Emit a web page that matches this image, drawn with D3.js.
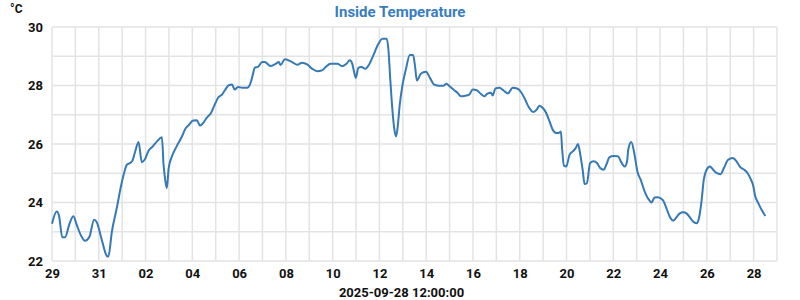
<!DOCTYPE html>
<html>
<head>
<meta charset="utf-8">
<script src="https://cdn.jsdelivr.net/npm/d3@7"></script>
<style>
  body { margin: 0; background: #fff; }
  text { font-family: Roboto, "Liberation Sans", sans-serif; }
</style>
</head>
<body>
<div id="chart"></div>
<script>
// Chart values
var startTime = "2025-08-29T00:00:00";
var lastTimeLabel = "2025-09-28 12:00:00";

// days since start
var days = [
  0, 0.2, 0.3, 0.44, 0.56, 0.73, 0.91, 1.06, 1.24, 1.41, 1.6, 1.8, 1.91, 2.13, 2.34, 2.41,
  2.56, 2.77, 2.96, 3.1, 3.2, 3.34, 3.44, 3.56, 3.7, 3.84, 3.96, 4.13, 4.31, 4.49, 4.7, 4.77,
  4.84, 4.91, 4.99, 5.13, 5.33, 5.54, 5.71, 5.86, 6.04, 6.19, 6.33, 6.49, 6.63, 6.8, 6.96,
  7.1, 7.27, 7.41, 7.56, 7.7, 7.81, 7.96, 8.13, 8.34, 8.49, 8.59, 8.67, 8.81, 8.99, 9.1,
  9.34, 9.56, 9.7, 9.77, 9.96, 10.27, 10.49, 10.7, 10.91, 11.13, 11.34, 11.53, 11.7, 11.91,
  12.2, 12.41, 12.59, 12.73, 12.84, 12.91, 12.99, 13.1, 13.24, 13.39, 13.56, 13.73, 13.91,
  14.13, 14.31, 14.39, 14.46, 14.56, 14.64, 14.71, 14.79, 14.87, 14.99, 15.13, 15.3, 15.44,
  15.53, 15.6, 15.77, 15.99, 16.16, 16.34, 16.56, 16.73, 16.87, 16.99, 17.2, 17.34, 17.49,
  17.67, 17.84, 17.99, 18.16, 18.34, 18.49, 18.6, 18.77, 18.84, 18.96, 19.13, 19.31, 19.49,
  19.7, 19.89, 20.06, 20.2, 20.34, 20.41, 20.59, 20.73, 20.84, 20.99, 21.13, 21.27, 21.41,
  21.56, 21.67, 21.76, 21.81, 21.89, 21.99, 22.13, 22.27, 22.39, 22.49, 22.59, 22.7, 22.77,
  22.87, 23.01, 23.16, 23.3, 23.44, 23.59, 23.7, 23.84, 24.01, 24.2, 24.34, 24.49, 24.59,
  24.64, 24.77, 24.91, 25.03, 25.17, 25.34, 25.46, 25.53, 25.63, 25.77, 25.91, 26.13, 26.27,
  26.41, 26.56, 26.7, 26.84, 26.99, 27.13, 27.27, 27.41, 27.56, 27.67, 27.77, 27.87, 27.99,
  28.13, 28.27, 28.41, 28.59, 28.73, 28.91, 29.1, 29.27, 29.41, 29.6, 29.74, 29.87, 29.99,
  30.06, 30.2, 30.34, 30.5
];

// inside temperature, degrees C
var temps = [
  23.27, 23.69, 23.55, 22.81, 22.81, 23.23, 23.53, 23.23, 22.87, 22.69, 22.83, 23.41, 23.33, 22.72, 22.18, 22.15,
  23.0, 23.81, 24.6, 25.06, 25.29, 25.35, 25.43, 25.75, 26.07, 25.38, 25.46, 25.77, 25.92, 26.09, 26.23, 25.29,
  24.78, 24.49, 25.18, 25.58, 25.92, 26.23, 26.53, 26.66, 26.8, 26.81, 26.63, 26.75, 26.91, 27.06, 27.35,
  27.58, 27.69, 27.86, 28.01, 28.03, 27.86, 27.95, 27.92, 27.92, 28.09, 28.38, 28.61, 28.64, 28.8, 28.8,
  28.67, 28.74, 28.8, 28.7, 28.9, 28.8, 28.71, 28.78, 28.72, 28.57, 28.49, 28.51, 28.63, 28.74,
  28.74, 28.66, 28.74, 28.86, 28.74, 28.49, 28.26, 28.61, 28.63, 28.57, 28.72, 29.01, 29.35,
  29.6, 29.6, 29.18, 28.26, 27.12, 26.49, 26.26, 26.66, 27.35, 28.03, 28.55, 29.04, 29.04,
  28.61, 28.17, 28.4, 28.47, 28.26, 28.03, 27.99, 27.99, 28.06, 27.98, 27.84, 27.75, 27.63,
  27.65, 27.69, 27.86, 27.84, 27.71, 27.63, 27.71, 27.75, 27.66, 27.9, 27.92, 27.83, 27.73,
  27.92, 27.9, 27.77, 27.57, 27.33, 27.23, 27.09, 27.18, 27.31, 27.23, 27.06, 26.78, 26.49,
  26.38, 26.38, 26.43, 25.86, 25.26, 25.23, 25.63, 25.75, 25.86, 26.0, 25.63, 25.06, 24.63,
  24.66, 25.35, 25.41, 25.35, 25.18, 25.12, 25.29, 25.55, 25.59, 25.58, 25.38, 25.23, 25.41,
  25.81, 26.07, 25.63, 25.06, 24.78, 24.38, 24.17, 24.09, 24.0, 24.17, 24.18, 24.07, 23.81,
  23.52, 23.38, 23.49, 23.63, 23.67, 23.63, 23.5, 23.35, 23.29, 23.49, 24.03, 24.78, 25.12,
  25.23, 25.12, 25.01, 24.97, 25.18, 25.46, 25.52, 25.41, 25.23, 25.12, 25.01, 24.81, 24.55,
  24.24, 23.98, 23.75, 23.54
];

var yTicks = [22, 24, 26, 28, 30];

// Define SVG area dimensions
var svgWidth = 800;
var svgHeight = 300;

var margin = { top: 27, right: 23, bottom: 39, left: 52 };
var chartWidth = svgWidth - margin.left - margin.right;
var chartHeight = svgHeight - margin.top - margin.bottom;

var svg = d3.select("#chart")
  .append("svg")
  .attr("width", svgWidth)
  .attr("height", svgHeight);

var chartGroup = svg.append("g")
  .attr("transform", `translate(${margin.left}, ${margin.top})`);

var t0 = new Date(startTime);
var t1 = d3.timeDay.offset(t0, 31);

var data = days.map((d, i) => ({
  time: new Date(t0.getTime() + d * 86400000),
  temp: temps[i]
}));

var xTimeScale = d3.scaleTime()
  .domain([t0, t1])
  .range([0, chartWidth]);

var yLinearScale = d3.scaleLinear()
  .domain([22, 30])
  .range([chartHeight, 0]);

// Grid lines (every day, every degree)
chartGroup.append("g")
  .selectAll("line")
  .data(d3.timeDay.range(t0, d3.timeDay.offset(t1, 1)))
  .enter()
  .append("line")
  .attr("x1", d => xTimeScale(d))
  .attr("x2", d => xTimeScale(d))
  .attr("y1", 0)
  .attr("y2", chartHeight)
  .attr("stroke", "#e3e3e3")
  .attr("stroke-width", 1.5);

chartGroup.append("g")
  .selectAll("line")
  .data(d3.range(22, 31))
  .enter()
  .append("line")
  .attr("x1", 0)
  .attr("x2", chartWidth)
  .attr("y1", d => yLinearScale(d))
  .attr("y2", d => yLinearScale(d))
  .attr("stroke", "#e3e3e3")
  .attr("stroke-width", 1.5);

// Axes
var bottomAxis = d3.axisBottom(xTimeScale)
  .tickValues(d3.timeDay.range(t0, t1, 2))
  .tickSize(0)
  .tickPadding(8)
  .tickFormat(d3.timeFormat("%d"));

var leftAxis = d3.axisLeft(yLinearScale)
  .tickValues(yTicks)
  .tickSize(0)
  .tickPadding(9);

var xAxis = chartGroup.append("g")
  .attr("transform", `translate(0, ${chartHeight})`)
  .call(bottomAxis);

var yAxis = chartGroup.append("g")
  .call(leftAxis);

[xAxis, yAxis].forEach(function(ax) {
  ax.select(".domain").remove();
  ax.selectAll("text")
    .attr("fill", "#111")
    .style("font-size", "13px")
    .style("font-weight", "bold")
    .style("font-family", "Roboto, sans-serif");
});

// Temperature line
var line = d3.line()
  .x(d => xTimeScale(d.time))
  .y(d => yLinearScale(d.temp))
  .curve(d3.curveMonotoneX);

chartGroup.append("path")
  .datum(data)
  .attr("fill", "none")
  .attr("stroke", "#3579b5")
  .attr("stroke-width", 2)
  .attr("stroke-linejoin", "round")
  .attr("d", line);

// Titles
svg.append("text")
  .attr("x", svgWidth / 2)
  .attr("y", 17)
  .attr("text-anchor", "middle")
  .attr("fill", "#3a7dbf")
  .style("font-size", "15px")
  .style("font-weight", "bold")
  .text("Inside Temperature");

svg.append("text")
  .attr("x", 10)
  .attr("y", 13)
  .attr("fill", "#111")
  .style("font-size", "12px")
  .style("font-weight", "bold")
  .text("°C");

svg.append("text")
  .attr("x", margin.left + chartWidth / 2 - 13)
  .attr("y", 297)
  .attr("text-anchor", "middle")
  .attr("fill", "#111")
  .style("font-size", "13px")
  .style("font-weight", "bold")
  .text(lastTimeLabel);
</script>
</body>
</html>
